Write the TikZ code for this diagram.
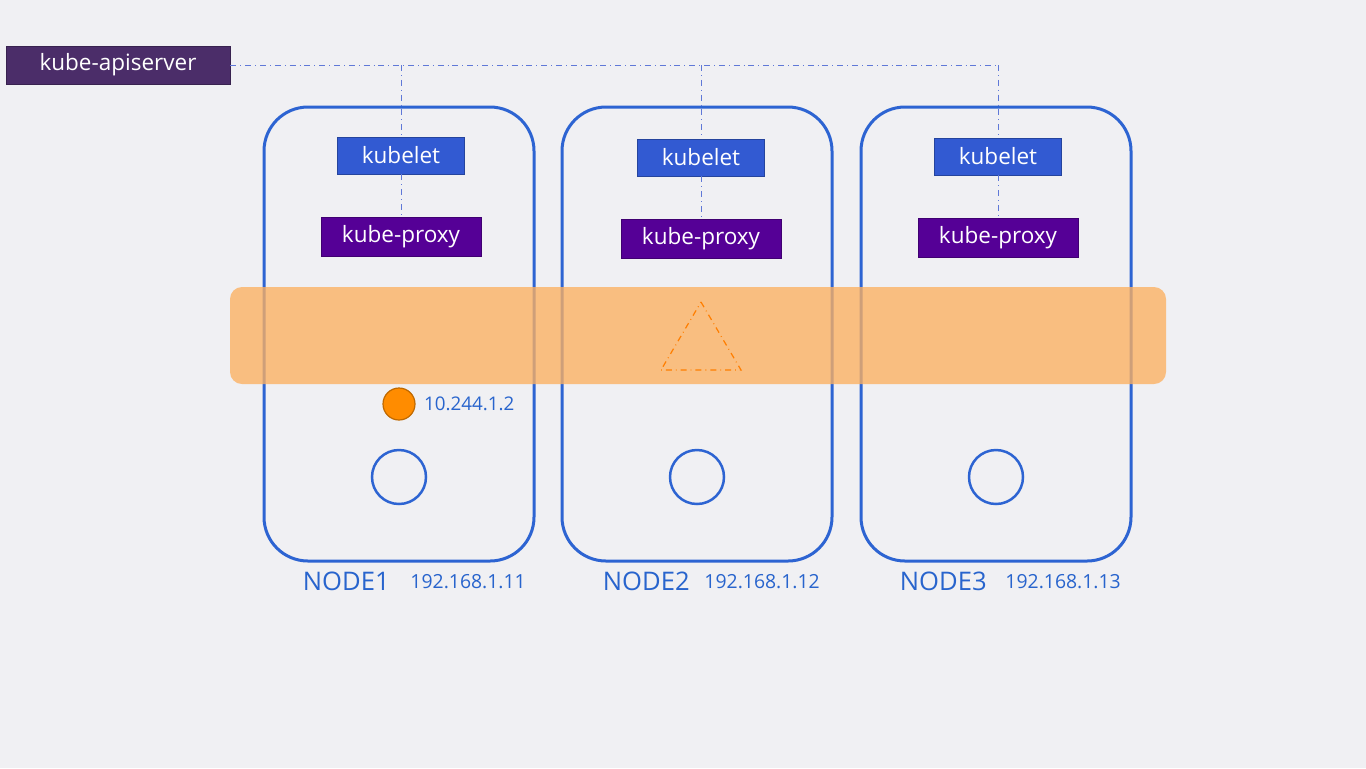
\documentclass[tikz,border=0pt]{standalone}
\usepackage{fontspec}
\setmainfont{Open Sans}
\usetikzlibrary{positioning,calc}

\definecolor{bgcol}{RGB}{240,240,243}
\definecolor{apicol}{RGB}{75,45,105}
\definecolor{letcol}{RGB}{50,90,210}
\definecolor{proxcol}{RGB}{85,0,150}
\definecolor{hostcol}{RGB}{45,100,210}
\definecolor{linkcol}{RGB}{95,120,215}
\definecolor{bandcol}{RGB}{252,176,96}
\definecolor{podcol}{RGB}{255,140,0}
\definecolor{txtcol}{RGB}{40,100,205}

\tikzset{
  box/.style={draw=#1!75!black, fill=#1, text=white, inner sep=0pt,
    font=\fontsize{11.25}{13}\selectfont},
  link/.style={linkcol, dash dot, line width=0.5pt},
  host/.style={draw=hostcol, line width=1.5pt, rounded corners=22pt,
    minimum width=135pt, minimum height=227pt},
  pod/.style={circle, inner sep=0pt, minimum size=#1},
}

\begin{document}
\begin{tikzpicture}[x=0.5pt,y=-0.5pt]
\fill[bgcol] (0,0) rectangle (1366,768);

\node[box=apicol, minimum width=112pt, minimum height=19pt] (api) at (118,65) {kube-apiserver};

% worker nodes
\foreach \i/\x/\kx/\ky/\py/\lx/\gap in {1/399/401/155.5/237/40/10, 2/697/701/157.5/239/42/7, 3/996/998/156.5/238/40/9} {
  \node[host] (N\i) at (\x,334) {};
  \node[box=letcol, minimum width=63.5pt, minimum height=18.5pt] (K\i) at (\kx,\ky) {kubelet};
  \node[box=proxcol, minimum width=80pt, minimum height=19.5pt] (P\i) at (\kx,\py) {kube-proxy};
  \node[pod=27pt, draw=hostcol, line width=1.25pt] (C\i) at (\x,477) {};
  \node[anchor=west, inner sep=0pt, text=txtcol, font=\fontsize{12.8}{15}\selectfont] (L\i)
    at ($(N\i.south west)+(\lx,19)$) {NODE\i};
  \node[right=\gap pt of L\i, inner sep=0pt, text=txtcol, font=\fontsize{9.7}{12}\selectfont] (IP\i) {192.168.1.1\i};
}

% links to the apiserver
\draw[link] (api.east) -- (api.east -| K3.north);
\foreach \i in {1,2,3} {
  \draw[link] (api.east -| K\i.north) -- (K\i.north);
  \draw[link] (K\i.south) -- (P\i.north);
}

% pod network
\fill[bandcol, opacity=0.78, rounded corners=6pt] (230,287) rectangle (1166,384);
\draw[podcol!90!red, dash dot, line width=0.6pt] (701,302) -- (741,370) -- (661,370) -- cycle;

\node[pod=16pt, fill=podcol, draw=podcol!75!black, line width=0.6pt] (pod) at (399,404) {};
\node[right=4pt of pod, inner sep=0pt, text=txtcol, font=\fontsize{9.4}{11}\selectfont] (podip) {10.244.1.2};
\end{tikzpicture}
\end{document}
